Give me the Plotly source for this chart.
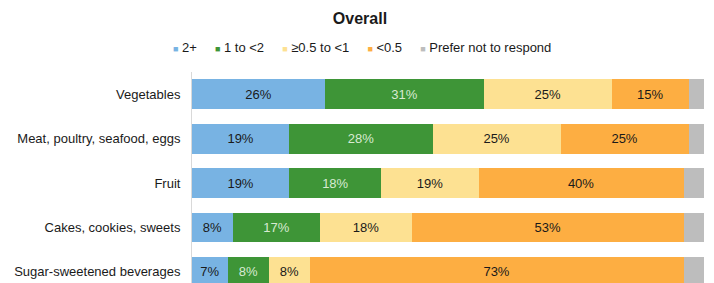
import plotly.graph_objects as go

categories = ["Vegetables", "Meat, poultry, seafood, eggs", "Fruit",
              "Cakes, cookies, sweets", "Sugar-sweetened beverages"]
series_names = ["2+", "1 to <2", "≥0.5 to <1", "<0.5", "Prefer not to respond"]
v_2plus = [26, 19, 19, 8, 7]
v_1to2 = [31, 28, 18, 17, 8]
v_05to1 = [25, 25, 19, 18, 8]
v_lt05 = [15, 25, 40, 53, 73]
v_prefer = [3, 3, 4, 4, 4]
series_values = [v_2plus, v_1to2, v_05to1, v_lt05, v_prefer]

colors = ["#78b3e3", "#3e9537", "#fde192", "#fdae42", "#bdbdbd"]
text_colors = ["#1a1a1a", "#d8ead2", "#1a1a1a", "#1a1a1a", "#1a1a1a"]
show_text = [True, True, True, True, False]

FONT = "Liberation Sans, Arial, sans-serif"

# page body has an 8px margin; figure is sized/positioned to compensate
W, H = 706, 275
L, R, T = 184, 10, 64
PW = W - L - R

fig = go.Figure()
for name, vals, col, tcol, st in zip(series_names, series_values, colors, text_colors, show_text):
    fig.add_trace(go.Bar(
        y=categories, x=vals, name=name, orientation="h",
        marker=dict(color=col, line=dict(width=0)),
        text=[f"{v}%" for v in vals] if st else None,
        textposition="inside", insidetextanchor="middle",
        textfont=dict(color=tcol, size=13, family=FONT),
        showlegend=False, hoverinfo="skip",
    ))

# legend built as text
legend_parts = []
for name, col in zip(series_names, colors):
    legend_parts.append(f"<span style='color:{col};font-size:9px'>■</span> {name}")
legend_text = "&nbsp;&nbsp;&nbsp;&nbsp;&nbsp;".join(legend_parts)

fig.add_annotation(text=legend_text, xref="paper", yref="paper",
                   x=(354 - L) / PW, y=1, yshift=25, yanchor="middle",
                   xanchor="center", showarrow=False,
                   font=dict(size=13, family=FONT, color="#1a1a1a"))

fig.update_layout(
    width=W, height=H,
    margin=dict(l=L, r=R, t=T, b=0, autoexpand=False),
    barmode="stack", bargap=0.33,
    plot_bgcolor="white", paper_bgcolor="white",
    title=dict(text="<b>Overall</b>", x=352 / W, xanchor="center",
               y=1 - 10 / H, yanchor="middle", automargin=False,
               font=dict(size=16, family=FONT, color="#1a1a1a")),
    font=dict(family=FONT, size=13, color="#1a1a1a"),
    xaxis=dict(range=[0, 100], visible=False, fixedrange=True, automargin=False),
    yaxis=dict(categoryorder="array", categoryarray=categories[::-1],
               range=[-0.25, 4.5], showline=True, linecolor="#d9d9d9",
               linewidth=1, showgrid=False, zeroline=False, ticks="",
               ticklabelstandoff=8, automargin=False,
               tickfont=dict(size=13, family=FONT, color="#1a1a1a")),
)

fig.write_html("out.html")
